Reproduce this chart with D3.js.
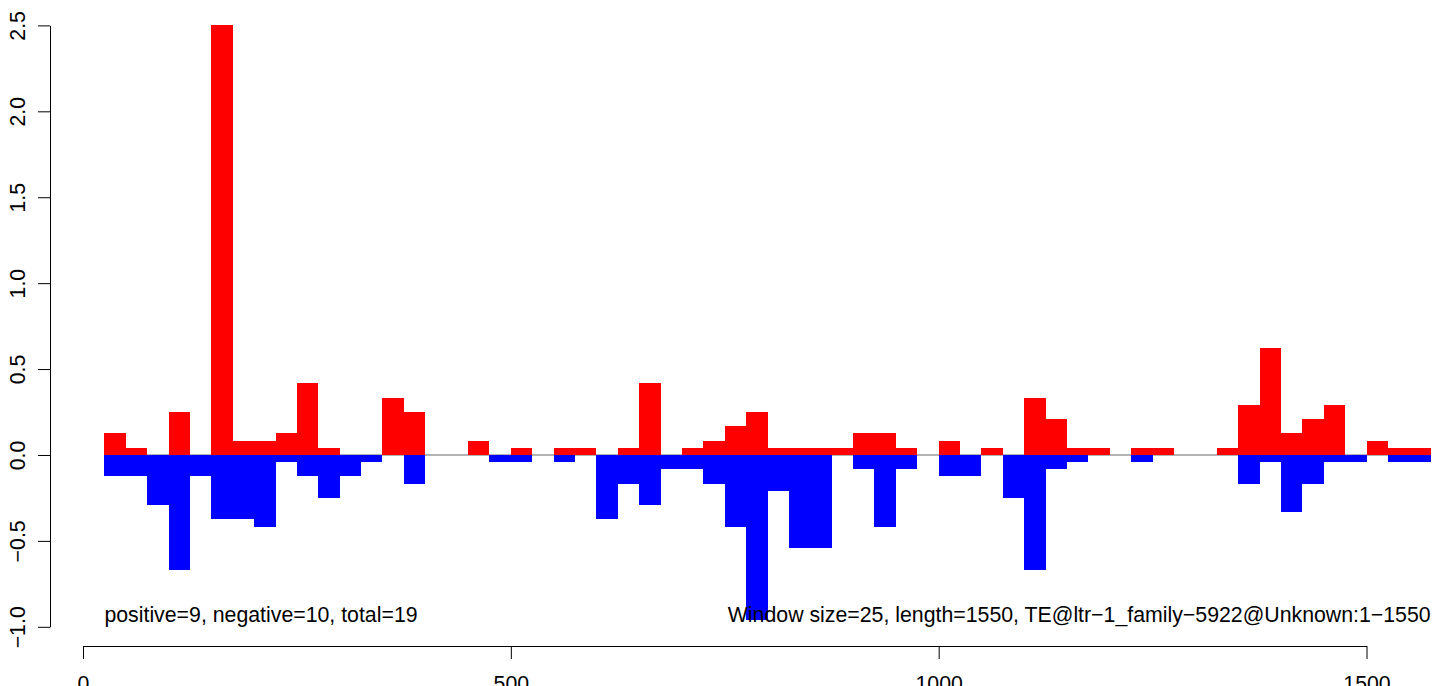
<!DOCTYPE html>
<html>
<head>
<meta charset="UTF-8">
<title>window plot</title>
<script src="https://cdn.jsdelivr.net/npm/d3@7"></script>
<style>
  html, body { margin: 0; padding: 0; background: #fff; }
  svg { display: block; font-family: "Liberation Sans", Arial, Helvetica, sans-serif; }
</style>
</head>
<body>
<svg id="chart" width="1444" height="686"></svg>
<script>
// window starts (bp), window size 25
const binStarts = [25, 50, 75, 100, 125, 150, 175, 200, 225, 250, 275, 300, 325, 350, 375, 400,
  425, 450, 475, 500, 525, 550, 575, 600, 625, 650, 675, 700, 725, 750, 775, 800, 825, 850, 875,
  900, 925, 950, 975, 1000, 1025, 1050, 1075, 1100, 1125, 1150, 1175, 1200, 1225, 1250, 1275,
  1300, 1325, 1350, 1375, 1400, 1425, 1450, 1475, 1500, 1525, 1550];
const windowSize = 25;

// positive strand signal
const posValues = [0.125, 0.042, 0, 0.25, 0, 2.5, 0.083, 0.083, 0.125, 0.417, 0.042, 0, 0, 0.333, 0.25, 0,
  0, 0.083, 0, 0.042, 0, 0.042, 0.042, 0, 0.042, 0.417, 0, 0.042, 0.083, 0.167, 0.25, 0.042, 0.042, 0.042, 0.042,
  0.125, 0.125, 0.042, 0, 0.083, 0, 0.042, 0, 0.333, 0.208, 0.042, 0.042, 0, 0.042, 0.042, 0,
  0, 0.042, 0.292, 0.625, 0.125, 0.208, 0.292, 0, 0.083, 0.042, 0.042];

// negative strand signal
const negValues = [-0.125, -0.125, -0.292, -0.667, -0.125, -0.375, -0.375, -0.417, -0.042, -0.125, -0.25, -0.125, -0.042, 0, -0.167, 0,
  0, 0, -0.042, -0.042, 0, -0.042, 0, -0.375, -0.167, -0.292, -0.083, -0.083, -0.167, -0.417, -0.958, -0.208, -0.542, -0.542, 0,
  -0.083, -0.417, -0.083, 0, -0.125, -0.125, 0, -0.25, -0.667, -0.083, -0.042, 0, 0, -0.042, 0, 0,
  0, 0, -0.167, -0.042, -0.333, -0.167, -0.042, -0.042, 0, -0.042, -0.042];

const xTicks = [0, 500, 1000, 1500];
const yTicks = [-1.0, -0.5, 0.0, 0.5, 1.0, 1.5, 2.0, 2.5];

const leftLabel = "positive=9, negative=10, total=19";
const rightLabel = "Window size=25, length=1550, TE@ltr\u22121_family\u22125922@Unknown:1\u22121550";

const svg = d3.select("#chart");

const x = d3.scaleLinear().domain([0, 1500]).range([83, 1366.5]);
const y = d3.scaleLinear().domain([-1, 2.5]).range([626.8, 25.4]);

const fmtY = v => d3.format(".1f")(v).replace("-", "\u2212");
const fontSize = 21.3;

// zero line
svg.append("line")
  .attr("x1", x(binStarts[0]))
  .attr("x2", x(binStarts[binStarts.length - 1] + windowSize))
  .attr("y1", y(0)).attr("y2", y(0))
  .attr("stroke", "#9a9a9a")
  .attr("stroke-width", 1.4);

// bars
const bars = svg.append("g").attr("shape-rendering", "crispEdges");
bars.selectAll("rect.pos")
  .data(binStarts.map((s, i) => ({ s, v: posValues[i] })).filter(d => d.v > 0))
  .join("rect")
  .attr("class", "pos")
  .attr("x", d => x(d.s))
  .attr("width", d => x(d.s + windowSize) - x(d.s))
  .attr("y", d => y(d.v))
  .attr("height", d => y(0) - y(d.v))
  .attr("fill", "#ff0000");

bars.selectAll("rect.neg")
  .data(binStarts.map((s, i) => ({ s, v: negValues[i] })).filter(d => d.v < 0))
  .join("rect")
  .attr("class", "neg")
  .attr("x", d => x(d.s))
  .attr("width", d => x(d.s + windowSize) - x(d.s))
  .attr("y", y(0))
  .attr("height", d => y(d.v) - y(0))
  .attr("fill", "#0000ff");

// y axis
const yAxis = svg.append("g").attr("transform", "translate(50,0)")
  .call(d3.axisLeft(y).tickValues(yTicks).tickSize(12).tickSizeOuter(0).tickFormat(fmtY));
yAxis.select(".domain").attr("stroke", "#000").attr("stroke-width", 1);
yAxis.selectAll(".tick line").attr("stroke", "#000").attr("stroke-width", 1);
yAxis.selectAll(".tick text")
  .attr("x", null).attr("dy", null)
  .attr("transform", "translate(-25,0) rotate(-90)")
  .attr("text-anchor", "middle")
  .attr("fill", "#000")
  .style("font-size", fontSize + "px")
  .style("font-family", "'Liberation Sans', Arial, Helvetica, sans-serif");

// x axis
const xAxis = svg.append("g").attr("transform", "translate(0,646)")
  .call(d3.axisBottom(x).tickValues(xTicks).tickSize(13).tickSizeOuter(0).tickFormat(d3.format("d")));
xAxis.select(".domain").attr("stroke", "#000").attr("stroke-width", 1);
xAxis.selectAll(".tick line").attr("stroke", "#000").attr("stroke-width", 1);
xAxis.selectAll(".tick text")
  .attr("y", 45).attr("dy", null)
  .attr("fill", "#000")
  .style("font-size", fontSize + "px")
  .style("font-family", "'Liberation Sans', Arial, Helvetica, sans-serif");

// annotations
svg.append("text")
  .attr("x", x(binStarts[0]))
  .attr("y", 622)
  .attr("font-size", fontSize)
  .attr("fill", "#000")
  .text(leftLabel);

svg.append("text")
  .attr("x", x(binStarts[binStarts.length - 1] + windowSize))
  .attr("y", 622)
  .attr("font-size", fontSize)
  .attr("text-anchor", "end")
  .attr("fill", "#000")
  .text(rightLabel);
</script>
</body>
</html>
